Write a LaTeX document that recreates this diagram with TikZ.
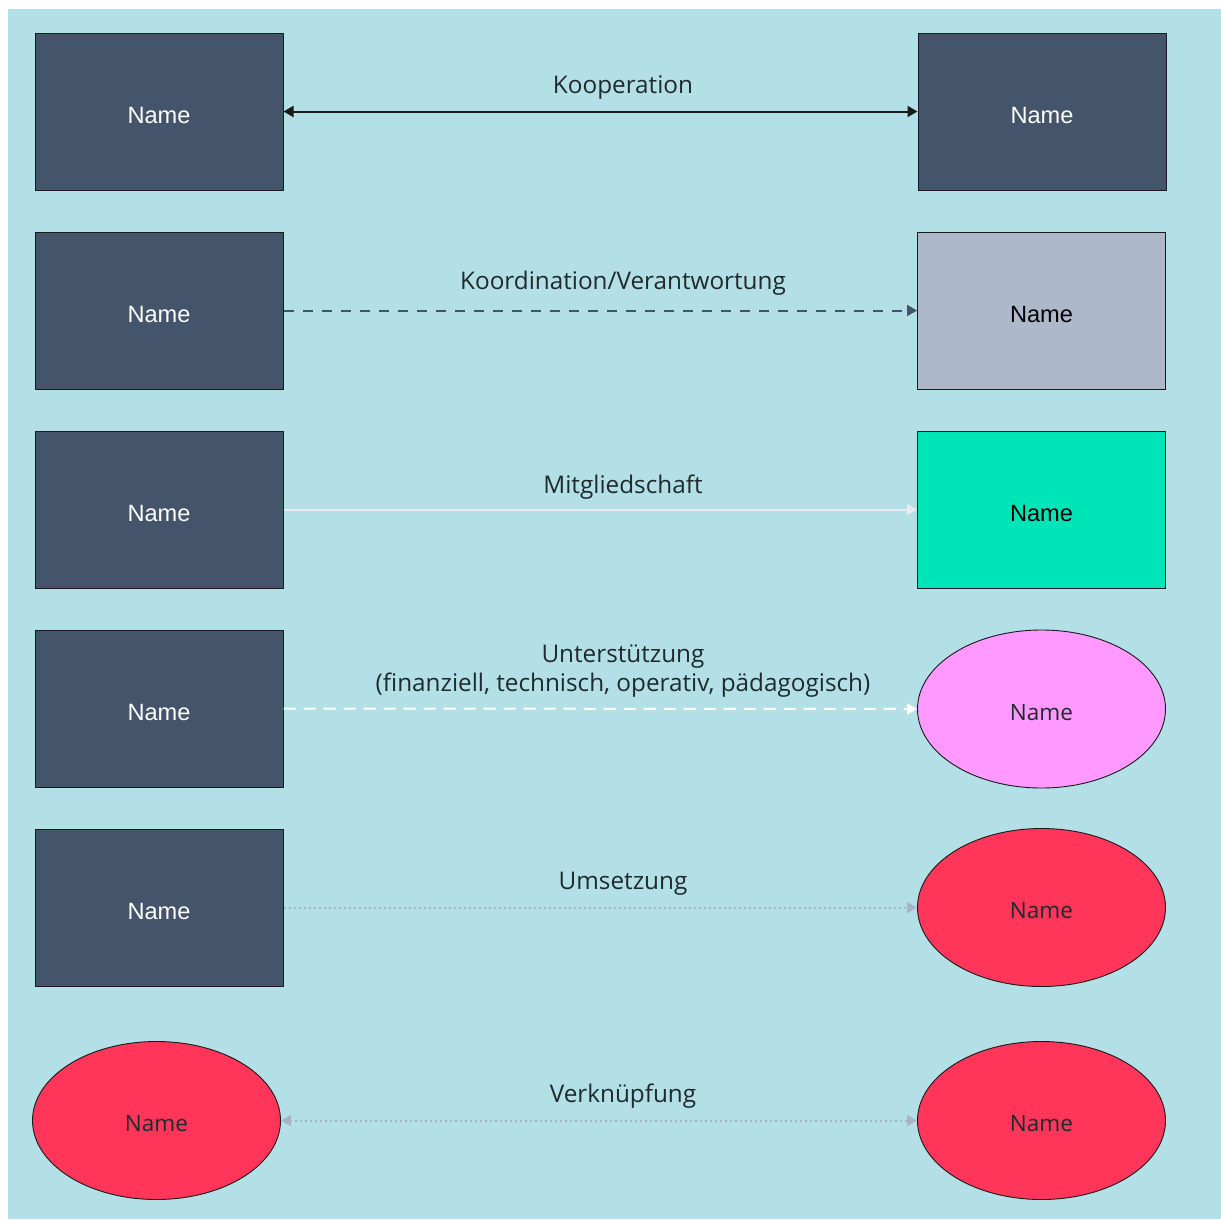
\documentclass[tikz,border=0pt]{standalone}
\usepackage{fontspec}
\setmainfont{Open Sans}
\newfontfamily\boxfont{Liberation Sans}
\usetikzlibrary{arrows.meta,shapes.geometric}
\definecolor{bgc}{HTML}{B3E0E6}
\definecolor{slatec}{HTML}{44546A}
\definecolor{edgec}{HTML}{1A1A1A}
\definecolor{grayc}{HTML}{ADB8CA}
\definecolor{tealc}{HTML}{00E5B8}
\definecolor{pinkc}{HTML}{FF99FF}
\definecolor{redc}{HTML}{FF3559}
\definecolor{dotc}{HTML}{A8B3C3}
\definecolor{whitec}{HTML}{E8ECF0}
\definecolor{txtc}{HTML}{1F2A2E}
\newcommand{\nm}{\raisebox{-3.5pt}[\height][\depth]{Name}}
\begin{document}
\begin{tikzpicture}[x=1pt,y=-1pt,
  rbox/.style={draw=edgec,line width=1pt,minimum width=248pt,minimum height=157pt,inner sep=0pt,font=\boxfont\fontsize{23.6}{26}\selectfont},
  darkbox/.style={rbox,fill=slatec,text=white},
  oval/.style={ellipse,draw=edgec,line width=0.9pt,minimum width=248pt,minimum height=158pt,inner sep=0pt,text=txtc,font=\fontsize{22.5}{26}\selectfont},
  lbl/.style={text=txtc,font=\fontsize{24.3}{29}\selectfont,align=center,inner sep=0pt},
  tip/.style={-{Triangle[length=10pt,width=11pt]}},
  tips/.style={{Triangle[length=10pt,width=11pt]}-{Triangle[length=10pt,width=11pt]}}
]
\useasboundingbox (0,0) rectangle (1221,1219);
\fill[bgc] (8,9) rectangle (1221,1219);
% row 1
\node[darkbox] (l1) at (159,111.5) {\nm};
\node[darkbox] (r1) at (1042,111.5) {\nm};
\draw[tips,edgec,line width=2pt] (l1.east) -- (r1.west);
\node[lbl] (t1) at (623,87.5) {Kooperation};
% row 2
\node[darkbox] (l2) at (159,310.5) {\nm};
\node[rbox,fill=grayc,text=black] (r2) at (1041.5,310.5) {\nm};
\draw[tip,slatec,line width=2pt,dash pattern=on 10pt off 9pt] (l2.east) -- (r2.west);
\node[lbl] (t2) at (623,283.5) {Koordination/Verantwortung};
% row 3
\node[darkbox] (l3) at (159,509.5) {\nm};
\node[rbox,fill=tealc,text=black] (r3) at (1041.5,509.5) {\nm};
\draw[tip,whitec,line width=2pt] (l3.east) -- (r3.west);
\node[lbl] (t3) at (623,487.5) {Mitgliedschaft};
% row 4
\node[darkbox] (l4) at (159,708.5) {\nm};
\node[oval,fill=pinkc] (r4) at (1041.5,709) {\nm};
\draw[tip,white,line width=2pt,dash pattern=on 12pt off 8pt] (l4.east) -- (r4.west);
\node[lbl] (t4) at (623,671.5) {Unterstützung\\(finanziell, technisch, operativ, pädagogisch)};
% row 5
\node[darkbox] (l5) at (159,907.5) {\nm};
\node[oval,fill=redc] (r5) at (1041.5,907.5) {\nm};
\draw[tip,dotc,line width=2pt,dash pattern=on 2pt off 3pt] (l5.east) -- (r5.west);
\node[lbl] (t5) at (623,883.5) {Umsetzung};
% row 6
\node[oval,fill=redc] (l6) at (156.5,1120.5) {\nm};
\node[oval,fill=redc] (r6) at (1041.5,1120.5) {\nm};
\draw[tips,dotc,line width=2pt,dash pattern=on 2pt off 3pt] (l6.east) -- (r6.west);
\node[lbl] (t6) at (623,1096.5) {Verknüpfung};
\end{tikzpicture}
\end{document}
